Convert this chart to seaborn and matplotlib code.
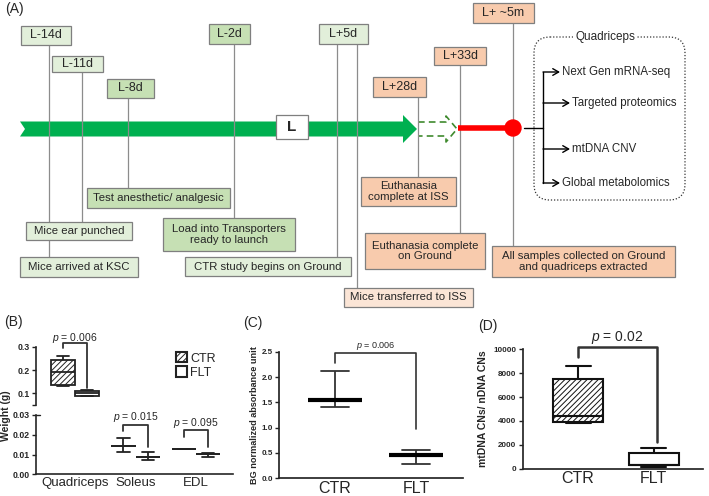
import seaborn as sns
import matplotlib.pyplot as plt
import numpy as np
import pandas as pd
from matplotlib.patches import Rectangle, FancyBboxPatch, Polygon, Circle, Patch

# ---------------- data ----------------
# (A) study timeline
milestones = ['L-14d', 'L-11d', 'L-8d', 'L-2d', 'L+5d', 'L+28d', 'L+33d', 'L+ ~5m']
events = ['Mice arrived at KSC', 'Mice ear punched', 'Test anesthetic/ analgesic',
          'Load into Transporters\nready to launch', 'CTR study begins on Ground',
          'Mice transferred to ISS', 'Euthanasia\ncomplete at ISS',
          'Euthanasia complete\non Ground',
          'All samples collected on Ground\nand quadriceps extracted']
assays = ['Next Gen mRNA-seq', 'Targeted proteomics', 'mtDNA CNV', 'Global metabolomics']

# (B) muscle weights, five-number summaries (min, q1, median, q3, max)
muscles = ['Quadriceps', 'Soleus', 'EDL']
groups = ['CTR', 'FLT']
quad_ctr = [0.130, 0.137, 0.193, 0.243, 0.260]
quad_flt = [0.088, 0.090, 0.100, 0.110, 0.114]
soleus_ctr = [0.0111, 0.0144, 0.0144, 0.0144, 0.0182]
soleus_flt = [0.0072, 0.0086, 0.0088, 0.0090, 0.0114]
edl_ctr = [0.0126, 0.0126, 0.0126, 0.0126, 0.0126]
edl_flt = [0.0086, 0.0104, 0.0104, 0.0104, 0.0106]
p_weight = ['0.006', '0.015', '0.095']

# (C) BG normalized absorbance
absorb_ctr = [1.40, 1.55, 1.55, 1.55, 2.12]
absorb_flt = [0.28, 0.46, 0.46, 0.46, 0.56]
p_absorb = '0.006'

# (D) mtDNA copy numbers
mtdna_ctr = [3800, 3950, 4400, 7550, 8600]
mtdna_flt = [170, 300, 320, 1290, 1700]
p_mtdna = '0.02'

# ---------------- layout (pixels) ----------------
light_green = '#e2efda'
mid_green = '#c6e0b4'
orange = '#f8cbad'
pale_orange = '#fbe5d6'

milestone_boxes = [(20.7, 25.7, 70.7, 45, light_green), (52, 55.7, 103, 72.3, light_green),
                   (107, 78.7, 154, 97.7, mid_green), (209, 24, 250, 44, mid_green),
                   (319, 24, 368, 44, light_green), (373, 77, 426, 97, orange),
                   (434, 47, 486, 65, orange), (473, 3, 534, 23, orange)]
event_boxes = [(20, 257, 138, 277, light_green), (26, 222, 132, 240, light_green),
               (87, 188, 230, 208, mid_green), (163, 218, 295, 251, mid_green),
               (185, 257, 351, 276, light_green), (344, 288, 473, 307, pale_orange),
               (361, 177, 456, 206, orange), (365, 233, 485, 269, orange),
               (492, 246, 675, 277, orange)]
connectors = [(49, 45, 257), (82, 72, 222), (128, 97, 188), (234, 44, 218), (337, 44, 257),
              (357, 44, 288), (418, 97, 177), (460, 65, 233), (513, 23, 246)]
assay_rows = [(72, 560), (103, 570), (149, 570), (183, 560)]

W, H = 709, 496

sns.set_theme(style='ticks')
plt.rcParams['font.family'] = ['Liberation Sans', 'DejaVu Sans']
plt.rcParams['mathtext.fontset'] = 'custom'
plt.rcParams['mathtext.it'] = 'Liberation Sans:italic'
plt.rcParams['mathtext.rm'] = 'Liberation Sans'
plt.rcParams['hatch.color'] = '#444444'
plt.rcParams['hatch.linewidth'] = 0.7

fig = plt.figure(figsize=(W / 100, H / 100), dpi=100)


def px_axes(x0, y0, x1, y1):
    return fig.add_axes([x0 / W, 1 - y1 / H, (x1 - x0) / W, (y1 - y0) / H])


def label_box(ax, x0, y0, x1, y1, text, color, size=8, weight='normal'):
    ax.add_patch(Rectangle((x0, y0), x1 - x0, y1 - y0, facecolor=color,
                           edgecolor='#7f7f7f', lw=0.9, zorder=4))
    ax.text((x0 + x1) / 2, (y0 + y1) / 2, text, ha='center', va='center',
            fontsize=size, weight=weight, zorder=5, linespacing=1.1)


# ---------------- (A) timeline ----------------
ax_a = fig.add_axes([0, 0, 1, 1])
ax_a.set_xlim(0, W)
ax_a.set_ylim(H, 0)
ax_a.axis('off')
ax_a.text(5, 9, '(A)', fontsize=10, va='center')

band = Polygon([(20, 121.5), (403, 121.5), (403, 115), (417, 129), (403, 143),
                (403, 136.5), (20, 136.5), (25, 129)], closed=True,
               facecolor='#00b050', edgecolor='none', zorder=1)
ax_a.add_patch(band)
ax_a.plot([418, 446, 446, 457, 446, 446, 418], [122, 122, 116, 129, 142, 136, 136],
          ls=(0, (4, 2.5)), color='#3f8a2e', lw=1.2, zorder=1)

for x, y0, y1 in connectors:
    ax_a.plot([x, x], [y0, y1], color='#8c8c8c', lw=0.9, zorder=2)

ax_a.plot([458, 513], [128, 128], color='#ff0000', lw=4, zorder=3, solid_capstyle='butt')
ax_a.add_patch(Circle((513, 128), 8, color='#ff0000', zorder=3))

for (x0, y0, x1, y1, c), t in zip(milestone_boxes, milestones):
    label_box(ax_a, x0, y0, x1, y1, t, c, size=9)
for (x0, y0, x1, y1, c), t in zip(event_boxes, events):
    label_box(ax_a, x0, y0, x1, y1, t, c, size=8.2)
label_box(ax_a, 276, 115, 308, 139, 'L', 'white', size=11, weight='bold')

# quadriceps assays
ax_a.add_patch(FancyBboxPatch((534, 37), 151, 163,
                              boxstyle='round,pad=0,rounding_size=16',
                              fill=False, ls=(0, (1, 1.5)), lw=0.9, ec='#333333'))
ax_a.text(605, 37, 'Quadriceps', ha='center', va='center', fontsize=8.5,
          bbox=dict(facecolor='white', edgecolor='none', pad=1.5))
ax_a.plot([524, 543], [128, 128], color='black', lw=1)
ax_a.plot([543, 543], [72, 183], color='black', lw=1)
for (y, tip), name in zip(assay_rows, assays):
    ax_a.annotate('', xy=(tip, y), xytext=(543, y),
                  arrowprops=dict(arrowstyle='->,head_length=0.35,head_width=0.2',
                                  color='black', lw=1, shrinkA=0, shrinkB=0))
    ax_a.text(tip + 2, y, name, va='center', ha='left', fontsize=8.3)


# ---------------- helpers for B, C, D ----------------
def five_num_frame(cats, hue_vals, arrays, value_name):
    rows = []
    for c, h, vals in zip(cats, hue_vals, arrays):
        for v in vals:
            rows.append((c, h, v))
    return pd.DataFrame(rows, columns=['category', 'group', value_name])


def bold_ticks(ax, size):
    ax.tick_params(axis='y', labelsize=size, length=3, width=1, pad=1.5, color='#222222')
    for lab in ax.get_yticklabels():
        lab.set_fontweight('bold')


def bracket(ax, x0, x1, y, y0, y1, ptext, ty, size, lw=1.3):
    ax.plot([x0, x0, x1, x1], [y0, y, y, y1], color='#333333', lw=lw, clip_on=False)
    ax.text((x0 + x1) / 2, ty, f'$p$ = {ptext}', ha='center', va='center', fontsize=size)


def hatch_ctr(ax):
    for p in ax.patches:
        xs = p.get_path().vertices[:, 0]
        if len(xs) and xs.mean() - round(xs.mean()) < 0:
            p.set_hatch('//////')


# ---------------- (B) muscle weight, broken axis ----------------
df_b = five_num_frame(['Quadriceps', 'Quadriceps', 'Soleus', 'Soleus', 'EDL', 'EDL'],
                      ['CTR', 'FLT'] * 3,
                      [quad_ctr, quad_flt, soleus_ctr, soleus_flt, edl_ctr, edl_flt],
                      'weight')
ax_bt = px_axes(36, 346.7, 233, 405)
ax_bb = px_axes(36, 415, 233, 474.3)
for ax in (ax_bt, ax_bb):
    sns.boxplot(data=df_b, x='category', y='weight', hue='group', order=muscles,
                hue_order=groups, palette={'CTR': 'white', 'FLT': 'white'},
                whis=(0, 100), width=0.8, gap=0, linecolor='#222222', linewidth=1.3,
                showfliers=False, legend=False, ax=ax)
    hatch_ctr(ax)
    ax.set_xlim(-0.645, 2.61)
    ax.set_xlabel('')
    ax.set_ylabel('')
    sns.despine(ax=ax)

ax_bt.set_ylim(0.05, 0.3)
ax_bt.set_yticks([0.05, 0.1, 0.2, 0.3], ['', '0.1', '0.2', '0.3'])
ax_bt.spines['bottom'].set_visible(False)
ax_bt.tick_params(axis='x', bottom=False, labelbottom=False)
ax_bb.set_ylim(0, 0.03)
ax_bb.set_yticks([0, 0.01, 0.02, 0.03], ['0.00', '0.01', '0.02', '0.03'])
ax_bb.tick_params(axis='x', length=0, labelsize=9.5, pad=2)
for ax in (ax_bt, ax_bb):
    ax.spines['left'].set_linewidth(1.2)
    ax.spines['bottom'].set_linewidth(1.2)
    bold_ticks(ax, 6.3)
ax_bb.plot([0, 0.02], [0.03, 0.03], transform=ax_bb.get_yaxis_transform(),
           color='#222222', lw=1, clip_on=False)

bracket(ax_bt, -0.2, 0.2, 0.316, 0.296, 0.125, p_weight[0], 0.338, 7.5)
bracket(ax_bb, 0.8, 1.2, 0.0249, 0.022, 0.0139, p_weight[1], 0.0290, 7.5)
bracket(ax_bb, 1.8, 2.2, 0.0222, 0.019, 0.0139, p_weight[2], 0.0257, 7.5)

fig.text(6.5 / W, 1 - 416 / H, 'Weight (g)', rotation=90, ha='center', va='center',
         fontsize=7.5, weight='bold')
fig.text(4 / W, 1 - 322 / H, '(B)', fontsize=10, va='center')
legend_handles = [Patch(facecolor='white', edgecolor='#222222', hatch='//////', lw=1.5),
                  Patch(facecolor='white', edgecolor='#222222', lw=1.5)]
fig.legend(legend_handles, groups, loc='upper left', bbox_to_anchor=(176 / W, 1 - 352 / H),
           frameon=False, fontsize=9, handlelength=0.9, handleheight=0.9,
           handletextpad=0.25, labelspacing=0.15, borderpad=0, borderaxespad=0)

# ---------------- (C) absorbance ----------------
df_c = five_num_frame(groups, groups, [absorb_ctr, absorb_flt], 'absorbance')
ax_c = px_axes(279, 351.7, 463, 478.3)
sns.boxplot(data=df_c, x='category', y='absorbance', order=groups, color='white',
            whis=(0, 100), width=0.67, linecolor='#333333', linewidth=1.3,
            showfliers=False, medianprops=dict(color='black', linewidth=3), ax=ax_c)
ax_c.set_xlim(-0.69, 1.58)
ax_c.set_ylim(0, 2.5)
ax_c.set_yticks(np.arange(0, 2.6, 0.5), ['0.0', '0.5', '1.0', '1.5', '2.0', '2.5'])
ax_c.set_xlabel('')
ax_c.set_ylabel('BG normalized absorbance unit', fontsize=6.6, weight='bold', labelpad=1.5)
ax_c.tick_params(axis='x', length=0, labelsize=11.5, pad=2)
sns.despine(ax=ax_c)
bold_ticks(ax_c, 5.8)
bracket(ax_c, 0, 1, 2.48, 2.28, 0.97, p_absorb, 2.62, 6.5, lw=1.2)
fig.text(243 / W, 1 - 323 / H, '(C)', fontsize=10, va='center')

# ---------------- (D) mtDNA ----------------
df_d = five_num_frame(groups, groups, [mtdna_ctr, mtdna_flt], 'mtdna')
ax_d = px_axes(522.7, 349.3, 703, 468.7)
sns.boxplot(data=df_d, x='category', y='mtdna', order=groups, color='white',
            whis=(0, 100), width=0.66, linecolor='#111111', linewidth=1.5,
            showfliers=False, ax=ax_d)
for p in ax_d.patches:
    xs = p.get_path().vertices[:, 0]
    if xs.mean() < 0.5:
        p.set_hatch('//////')
ax_d.set_xlim(-0.73, 1.65)
ax_d.set_ylim(0, 10000)
ax_d.set_yticks(np.arange(0, 10001, 2000))
ax_d.set_xlabel('')
ax_d.set_ylabel('mtDNA CNs/ nDNA CNs', fontsize=7.5, weight='bold', labelpad=4)
ax_d.tick_params(axis='x', length=0, labelsize=11.5, pad=2)
sns.despine(ax=ax_d)
bold_ticks(ax_d, 5.8)
bracket(ax_d, 0, 1.04, 10190, 9355, 2240, p_mtdna, 11030, 10, lw=1.8)
fig.text(478 / W, 1 - 326 / H, '(D)', fontsize=10, va='center')

plt.savefig('out.png', dpi=100)
